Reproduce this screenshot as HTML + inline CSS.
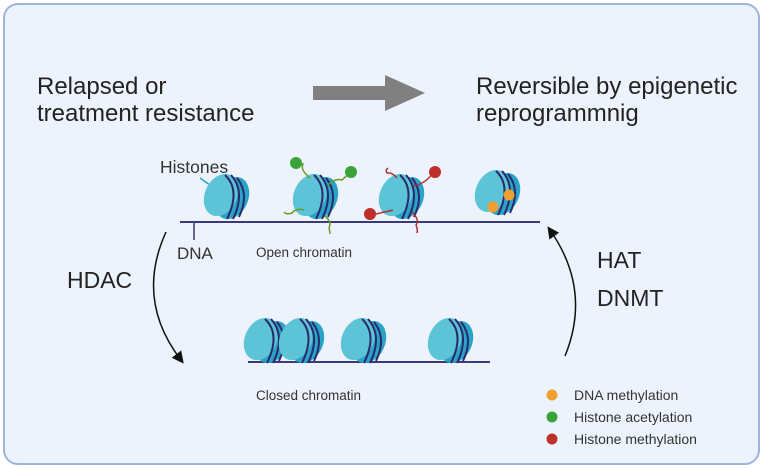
<!DOCTYPE html>
<html><head><style>body{margin:0;background:#fff}svg{display:block}text{font-family:"Liberation Sans",sans-serif}</style></head><body>
<svg width="763" height="468" viewBox="0 0 763 468" xmlns="http://www.w3.org/2000/svg">
<defs>
<g id="nuc">
<ellipse cx="7" cy="2" rx="16" ry="22" fill="#2aa3c8" transform="rotate(25 7 2)"/>
<ellipse cx="-4" cy="-1" rx="16" ry="22" fill="#5cc4d6" transform="rotate(25 -4 -1)"/>
<path d="M0,-21 Q16,-6 2,23 M6,-21 Q21,-4 8,23 M12,-18 Q25,-2 14,21" fill="none" stroke="#2a2a6a" stroke-width="2"/>
</g>
<marker id="ah" markerWidth="8" markerHeight="8" refX="5" refY="4" orient="auto"><path d="M0,0 L8,4 L0,8 Z" fill="#111"/></marker>
</defs>
<rect x="4" y="4" width="755" height="460" rx="14" fill="#edf3fc" stroke="#9db4dd" stroke-width="2"/>
<text x="37" y="94" font-size="24" fill="#222">Relapsed or</text>
<text x="37" y="121" font-size="24" fill="#222">treatment resistance</text>
<path d="M313,86 H385 V75 L425,93 L385,111 V100 H313 Z" fill="#808080"/>
<text x="476" y="94" font-size="24" fill="#222">Reversible by epigenetic</text>
<text x="476" y="121" font-size="24" fill="#222">reprogrammnig</text>
<text x="160" y="173" font-size="17.5" fill="#333">Histones</text>
<line x1="200" y1="178" x2="217" y2="190" stroke="#2aa3c8" stroke-width="1.5"/>
<line x1="180" y1="222" x2="540" y2="222" stroke="#3a3a7a" stroke-width="2"/>
<line x1="194" y1="222" x2="194" y2="240" stroke="#3a3a7a" stroke-width="1.5"/>
<text x="177" y="259" font-size="17" fill="#333">DNA</text>
<text x="256" y="257" font-size="13.5" fill="#333">Open chromatin</text>
<use href="#nuc" x="225" y="196"/>
<use href="#nuc" x="314" y="196"/>
<use href="#nuc" x="400" y="196"/>
<use href="#nuc" x="496" y="192"/>
<g fill="none" stroke="#6a9a2a" stroke-width="1.5">
<path d="M310,178 Q300,170 303,164 Q298,163 296,164"/><path d="M328,185 Q335,178 342,180 Q346,176 349,174"/>
<path d="M304,210 Q296,208 292,213 Q286,215 284,212"/><path d="M325,216 Q332,222 329,228 Q330,232 330,234"/>
</g>
<circle cx="296" cy="163" r="6" fill="#3aa33a"/><circle cx="351" cy="172" r="6" fill="#3aa33a"/>
<g fill="none" stroke="#b03030" stroke-width="1.5">
<path d="M397,178 Q392,172 387,173 Q385,170 388,168"/><path d="M413,186 Q425,184 432,174"/>
<path d="M393,210 Q385,212 380,213 Q376,214 370,216"/><path d="M412,212 Q420,220 416,225 Q418,230 417,233"/>
</g>
<circle cx="435" cy="172" r="6" fill="#c0302a"/><circle cx="370" cy="214" r="6" fill="#c0302a"/>
<circle cx="509" cy="195" r="5.5" fill="#f0a030"/><circle cx="493" cy="207" r="5.5" fill="#f0a030"/>
<line x1="248" y1="362" x2="490" y2="362" stroke="#3a3a7a" stroke-width="2"/>
<use href="#nuc" x="265" y="340"/>
<use href="#nuc" x="300" y="340"/>
<use href="#nuc" x="362" y="340"/>
<use href="#nuc" x="449" y="340"/>
<text x="256" y="400" font-size="13.5" fill="#333">Closed chromatin</text>
<text x="67" y="288" font-size="23" fill="#222">HDAC</text>
<text x="597" y="268" font-size="23" fill="#222">HAT</text>
<text x="597" y="306" font-size="23" fill="#222">DNMT</text>
<path d="M166,232 Q135,300 181,360" fill="none" stroke="#111" stroke-width="1.5" marker-end="url(#ah)"/>
<path d="M565,356 Q592,290 550,230" fill="none" stroke="#111" stroke-width="1.5" marker-end="url(#ah)"/>
<circle cx="552" cy="395" r="5.5" fill="#f0a030"/>
<circle cx="552" cy="417" r="5.5" fill="#3aa33a"/>
<circle cx="552" cy="439" r="5.5" fill="#c0302a"/>
<text x="574" y="400" font-size="14" fill="#333">DNA methylation</text>
<text x="574" y="422" font-size="14" fill="#333">Histone acetylation</text>
<text x="574" y="444" font-size="14" fill="#333">Histone methylation</text>
</svg>
</body></html>
